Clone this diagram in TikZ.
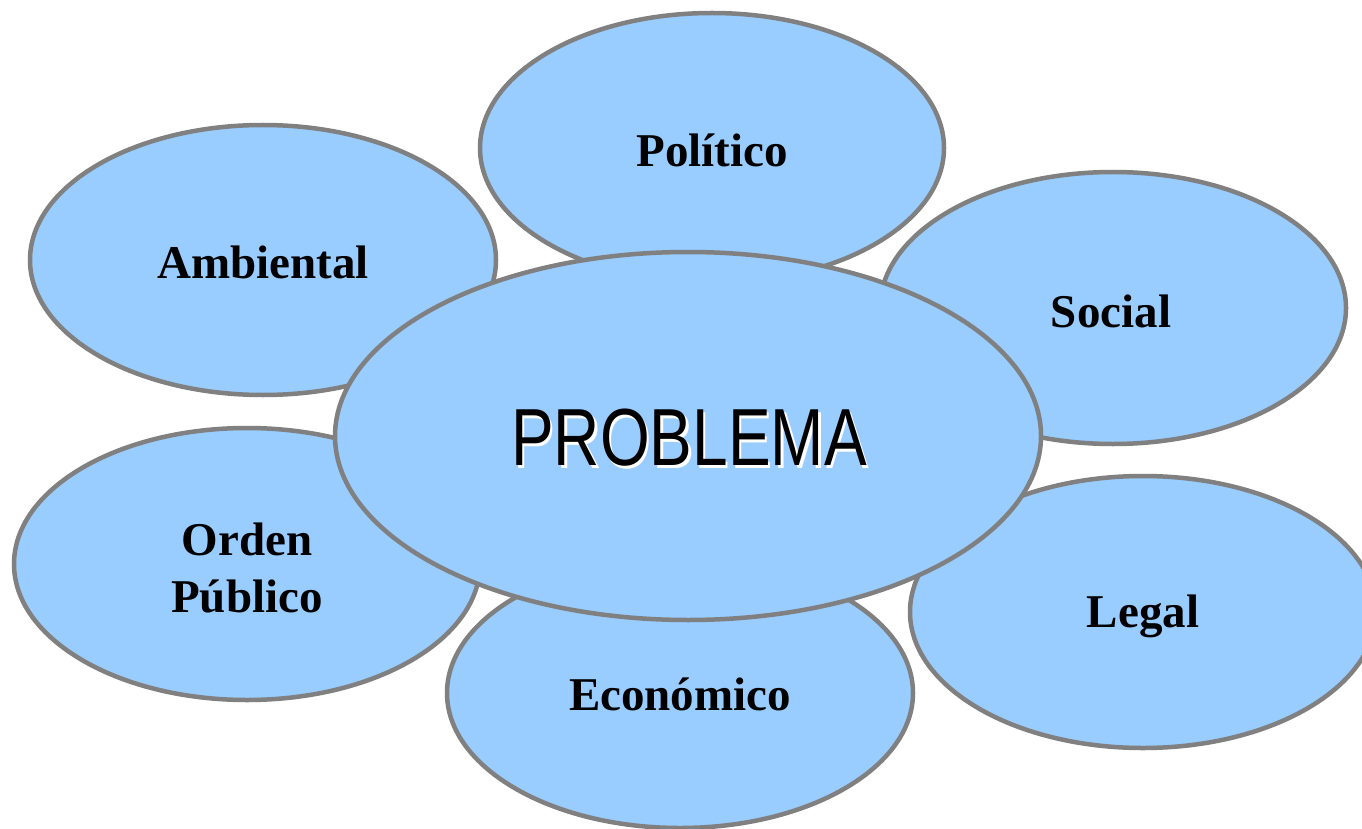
\documentclass[tikz,border=0pt]{standalone}
\usepackage{fontspec}
\setmainfont{Liberation Serif}
\newfontfamily\probfont{Liberation Sans}
\definecolor{bubble}{HTML}{99CCFF}
\definecolor{rim}{HTML}{808080}
\begin{document}
\begin{tikzpicture}[x=1pt,y=-1pt,
  bub/.style={draw=rim,fill=bubble,line width=4.5pt},
  lbl/.style={font=\fontsize{47}{57}\selectfont\bfseries,align=center,inner sep=0pt}]
\useasboundingbox (0,0) rectangle (1362,829);
\path[bub] (712,148) ellipse [x radius=232, y radius=135];
\path[bub] (263,260) ellipse [x radius=233, y radius=135];
\path[bub] (1113,308) ellipse [x radius=233, y radius=136];
\path[bub] (247,564) ellipse [x radius=233, y radius=136];
\path[bub] (1143,612) ellipse [x radius=233, y radius=136];
\path[bub] (680,693) ellipse [x radius=233, y radius=135];
\path[bub] (688,436) ellipse [x radius=353, y radius=184];
\node[lbl] (pol) at (712,150) {Político};
\node[lbl] (amb) at (263,262) {Ambiental};
\node[lbl] (soc) at (1111,311) {Social};
\node[lbl] (ord) at (247,568) {Orden\\Público};
\node[lbl] (leg) at (1143,616) {Legal};
\node[lbl] (eco) at (680,694) {Económico};
\node[inner sep=0pt,xscale=0.79,font=\probfont\fontsize{81}{81}\selectfont] (prob) at (689,439)
  {\rlap{\raisebox{-3pt}{\hspace{3pt}\textcolor{white}{PROBLEMA}}}PROBLEMA};
\end{tikzpicture}
\end{document}
